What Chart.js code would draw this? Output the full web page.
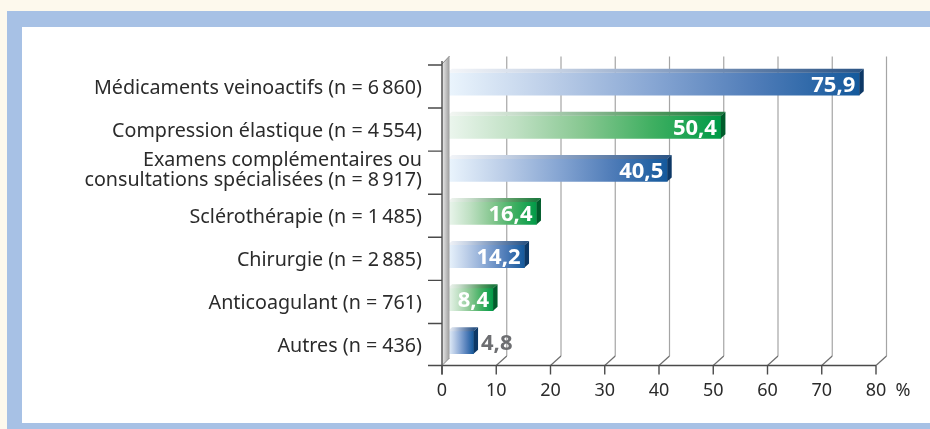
<!DOCTYPE html>
<html lang="fr">
<head>
<meta charset="utf-8">
<title>Traitements prescrits</title>
<script src="https://cdn.jsdelivr.net/npm/chart.js@4.4.1/dist/chart.umd.min.js"></script>
<style>
  html, body { margin: 0; padding: 0; }
  body { width: 930px; height: 429px; background: #fdf9ed; position: relative; overflow: hidden; }
  .frame { position: absolute; left: 7px; top: 11px; right: 0; bottom: 0; background: #a7c1e5; }
  .panel { position: absolute; left: 22px; top: 27px; right: 0; bottom: 6px; background: #fff; }
  #chart { position: absolute; left: 0; top: 0; }
</style>
</head>
<body>
<div class="frame"></div>
<div class="panel"></div>
<canvas id="chart" width="930" height="429"></canvas>
<script>
// values
const categories = [
  'Médicaments veinoactifs (n = 6\u2009860)',
  'Compression élastique (n = 4\u2009554)',
  ['Examens complémentaires ou', 'consultations spécialisées (n = 8\u2009917)'],
  'Sclérothérapie (n = 1\u2009485)',
  'Chirurgie (n = 2\u2009885)',
  'Anticoagulant (n = 761)',
  'Autres (n = 436)'
];
const percentages = [75.9, 50.4, 40.5, 16.4, 14.2, 8.4, 4.8];
const tickValues = [0, 10, 20, 30, 40, 50, 60, 70, 80];
const unitLabel = '%';

// styling
const barColours = ['blue', 'green', 'blue', 'green', 'blue', 'green', 'blue'];
const palettes = {
  blue: {
    face: ['#ebf5fd', '#bccee8', '#87a6d3', '#4f7cb8', '#14599c'],
    top: ['#f4f6f9', '#c9d4e5', '#91a7c8', '#5d7ca6', '#2e5686'],
    side: '#0d3866'
  },
  green: {
    face: ['#ecf6ee', '#bfe0c3', '#86c790', '#3faf61', '#009a47'],
    top: ['#f4f7f4', '#c8ddcb', '#8fbb97', '#52985f', '#1f7a40'],
    side: '#005c2b'
  }
};
const FONT = '"Noto Sans", "Open Sans", sans-serif';
const FRONT_DX = -5.5, BACK_DX = 5;
const DEPTH_X = 4.5, DEPTH_Y = 4;

function fillStops(g, stops) {
  stops.forEach((c, i) => g.addColorStop(i / (stops.length - 1), c));
  return g;
}

function faceGradient(context) {
  const chart = context.chart;
  if (!chart.chartArea) return null;
  const xs = chart.scales.x;
  const x0 = xs.getPixelForValue(0);
  const x1 = xs.getPixelForValue(context.raw);
  const g = chart.ctx.createLinearGradient(x0, 0, x1, 0);
  return fillStops(g, palettes[barColours[context.dataIndex]].face);
}

function geometry(chart) {
  const { x, y } = chart.scales;
  return {
    band: (y.bottom - y.top) / categories.length,
    frontTop: y.top + 2.5,
    frontBottom: y.bottom + 1.5,
    backTop: y.top - 6,
    backBottom: y.bottom - 8,
    fx: v => x.getPixelForValue(v) + FRONT_DX,
    bx: v => x.getPixelForValue(v) + BACK_DX
  };
}

const depthPlugin = {
  id: 'depth',
  beforeDatasetsDraw(chart) {
    const ctx = chart.ctx;
    const g = geometry(chart);
    ctx.save();

    // back wall grid lines + floor diagonals
    ctx.lineWidth = 1.2;
    tickValues.forEach(v => {
      if (v === 0) return;
      const bx = g.bx(v), fx = g.fx(v);
      ctx.strokeStyle = '#a5a5a5';
      ctx.beginPath();
      ctx.moveTo(bx, g.backTop);
      ctx.lineTo(bx, g.backBottom);
      ctx.stroke();
      ctx.strokeStyle = '#6e6e6e';
      ctx.beginPath();
      ctx.moveTo(bx, g.backBottom);
      ctx.lineTo(fx, g.frontBottom);
      ctx.stroke();
    });

    // front axis and ticks
    ctx.strokeStyle = '#4a4a4a';
    ctx.lineWidth = 1.4;
    ctx.beginPath();
    ctx.moveTo(428, g.frontBottom);
    ctx.lineTo(g.fx(80), g.frontBottom);
    tickValues.forEach(v => {
      ctx.moveTo(g.fx(v), g.frontBottom);
      ctx.lineTo(g.fx(v), g.frontBottom + 9);
    });
    for (let k = 0; k < categories.length; k++) {
      const yk = g.frontTop + k * g.band;
      ctx.moveTo(428, yk);
      ctx.lineTo(g.fx(0), yk);
    }
    ctx.stroke();
    ctx.restore();
  },

  afterDatasetsDraw(chart) {
    const ctx = chart.ctx;
    const g = geometry(chart);
    const meta = chart.getDatasetMeta(0);
    ctx.save();

    meta.data.forEach((el, i) => {
      const p = el.getProps(['x', 'y', 'base', 'height'], true);
      const top = p.y - p.height / 2, bottom = p.y + p.height / 2;
      const pal = palettes[barColours[i]];
      const tg = fillStops(ctx.createLinearGradient(p.base, 0, p.x, 0), pal.top);
      ctx.fillStyle = tg;
      ctx.beginPath();
      ctx.moveTo(p.base, top);
      ctx.lineTo(p.base + DEPTH_X, top - DEPTH_Y);
      ctx.lineTo(p.x + DEPTH_X, top - DEPTH_Y);
      ctx.lineTo(p.x, top);
      ctx.closePath();
      ctx.fill();
      ctx.fillStyle = pal.side;
      ctx.beginPath();
      ctx.moveTo(p.x, top);
      ctx.lineTo(p.x + DEPTH_X, top - DEPTH_Y);
      ctx.lineTo(p.x + DEPTH_X, bottom - DEPTH_Y);
      ctx.lineTo(p.x, bottom);
      ctx.closePath();
      ctx.fill();
    });

    // left wall
    const wx = g.fx(0), wr = wx + 7.5;
    const wg = ctx.createLinearGradient(wx, 0, wr, 0);
    wg.addColorStop(0, '#ececec');
    wg.addColorStop(1, '#9c9c9c');
    ctx.fillStyle = wg;
    ctx.beginPath();
    ctx.moveTo(wx, g.frontTop - 1);
    ctx.lineTo(wr, g.frontTop - 9);
    ctx.lineTo(wr, g.backBottom + 2);
    ctx.lineTo(wx, g.frontBottom);
    ctx.closePath();
    ctx.fill();
    ctx.strokeStyle = '#8a8a8a';
    ctx.lineWidth = 1;
    ctx.beginPath();
    ctx.moveTo(wx, g.frontTop - 1);
    ctx.lineTo(wr, g.frontTop - 9);
    ctx.moveTo(wx, g.frontBottom);
    ctx.lineTo(wr, g.backBottom + 2);
    ctx.stroke();
    ctx.strokeStyle = '#4a4a4a';
    ctx.lineWidth = 1.4;
    ctx.beginPath();
    ctx.moveTo(wx, g.frontTop - 4);
    ctx.lineTo(wx, g.frontBottom + 9);
    ctx.stroke();

    // value labels
    ctx.font = 'bold 22px ' + FONT;
    ctx.textBaseline = 'alphabetic';
    meta.data.forEach((el, i) => {
      const p = el.getProps(['x', 'y', 'base', 'height'], true);
      const txt = percentages[i].toFixed(1).replace('.', ',');
      const w = ctx.measureText(txt).width;
      if (p.x - wr > w + 8) {
        ctx.fillStyle = '#ffffff';
        ctx.textAlign = 'right';
        ctx.fillText(txt, p.x - 4, p.y + 8);
      } else {
        ctx.fillStyle = '#6d6e71';
        ctx.textAlign = 'left';
        ctx.fillText(txt, p.x + DEPTH_X + 3, p.y + 8);
      }
    });
    ctx.restore();
  },

  afterDraw(chart) {
    const ctx = chart.ctx;
    const g = geometry(chart);
    ctx.save();
    ctx.fillStyle = '#2b2b2b';
    ctx.textBaseline = 'alphabetic';

    // category labels
    ctx.font = '19.7px ' + FONT;
    ctx.textAlign = 'right';
    categories.forEach((lab, i) => {
      const c = g.frontTop + (i + 0.5) * g.band;
      if (Array.isArray(lab)) {
        ctx.fillText(lab[0], 422, c - 6.5);
        ctx.fillText(lab[1], 422, c + 13);
      } else {
        ctx.fillText(lab, 422, c + 7.5);
      }
    });

    // x tick labels on the front edge
    ctx.font = '18px ' + FONT;
    ctx.textAlign = 'center';
    tickValues.forEach(v => ctx.fillText(String(v), g.fx(v), g.frontBottom + 30.5));
    ctx.textAlign = 'left';
    ctx.fillText(unitLabel, g.fx(80) + 19.5, g.frontBottom + 30.5);
    ctx.restore();
  }
};

new Chart(document.getElementById('chart').getContext('2d'), {
  type: 'bar',
  data: {
    labels: categories,
    datasets: [{
      data: percentages,
      backgroundColor: faceGradient,
      borderWidth: 0,
      barThickness: 22.5
    }]
  },
  options: {
    indexAxis: 'y',
    responsive: false,
    animation: false,
    devicePixelRatio: 1,
    layout: { padding: { left: 447.5, right: 48.5, top: 62.5, bottom: 65 } },
    scales: {
      x: { min: 0, max: 80, display: false },
      y: { display: false }
    },
    plugins: { legend: { display: false }, tooltip: { enabled: false } }
  },
  plugins: [depthPlugin]
});
</script>
</body>
</html>
